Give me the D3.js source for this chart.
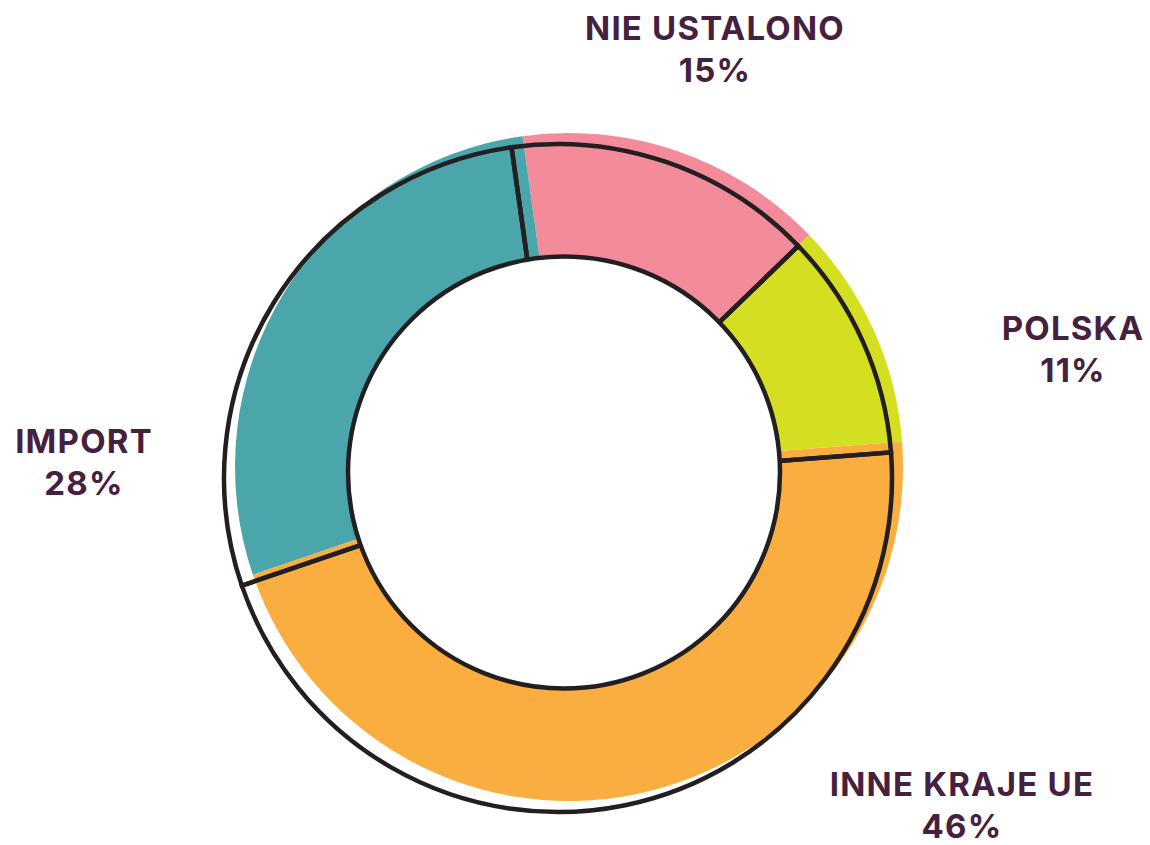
<!DOCTYPE html>
<html>
<head>
<meta charset="utf-8">
<script src="https://cdn.jsdelivr.net/npm/d3@7"></script>
<style>
  body { margin: 0; background: #fff; }
  text { font-family: Inter, "Open Sans", sans-serif; font-weight: 700; fill: #45213f; }
</style>
</head>
<body>
<div id="chart"></div>
<script>
// Data
const categories = ["NIE USTALONO", "POLSKA", "INNE KRAJE UE", "IMPORT"];
const values = [15, 11, 46, 28];
const colors = ["#f48b9b", "#d5df22", "#fbae40", "#4ba6ab"];

// Layout
const width = 1150, height = 845;
const outline = {cx: 558, cy: 478};
const fillC = {cx: 569, cy: 467};
const hole = {cx: 564, cy: 472.5, r: 216};
const outerR = 334;
// label anchors per category (center x, first baseline)
const labelPos = [[715, 40], [1073, 340], [962, 796], [84, 453]];

const svg = d3.select("#chart")
    .append("svg")
    .attr("width", width)
    .attr("height", height);

const startA = -8 * Math.PI / 180;
const pie = d3.pie()
    .sort(null)
    .startAngle(startA)
    .endAngle(startA + 2 * Math.PI);
const arcs = pie(values);

const arc = d3.arc().innerRadius(150).outerRadius(outerR);

// colored slices (shifted up-right)
svg.append("g")
    .attr("transform", `translate(${fillC.cx},${fillC.cy})`)
    .selectAll("path")
    .data(arcs)
    .join("path")
    .attr("d", arc)
    .attr("fill", (d, i) => colors[i]);

// black outline slices
svg.append("g")
    .attr("transform", `translate(${outline.cx},${outline.cy})`)
    .selectAll("path")
    .data(arcs)
    .join("path")
    .attr("d", arc)
    .attr("fill", "none")
    .attr("stroke", "#231f20")
    .attr("stroke-width", 4.5);

// white hole
svg.append("circle")
    .attr("cx", hole.cx)
    .attr("cy", hole.cy)
    .attr("r", hole.r)
    .attr("fill", "#fff")
    .attr("stroke", "#231f20")
    .attr("stroke-width", 4.5);

// labels
const labels = svg.append("g");
categories.forEach((c, i) => {
    const [x, y] = labelPos[i];
    const t = labels.append("text")
        .attr("x", x)
        .attr("y", y)
        .attr("text-anchor", "middle")
        .attr("font-size", 33)
        .attr("letter-spacing", 1.2);
    t.append("tspan").attr("x", x).text(c);
    t.append("tspan").attr("x", x).attr("dy", 42).text(values[i] + "%");
});
</script>
</body>
</html>
